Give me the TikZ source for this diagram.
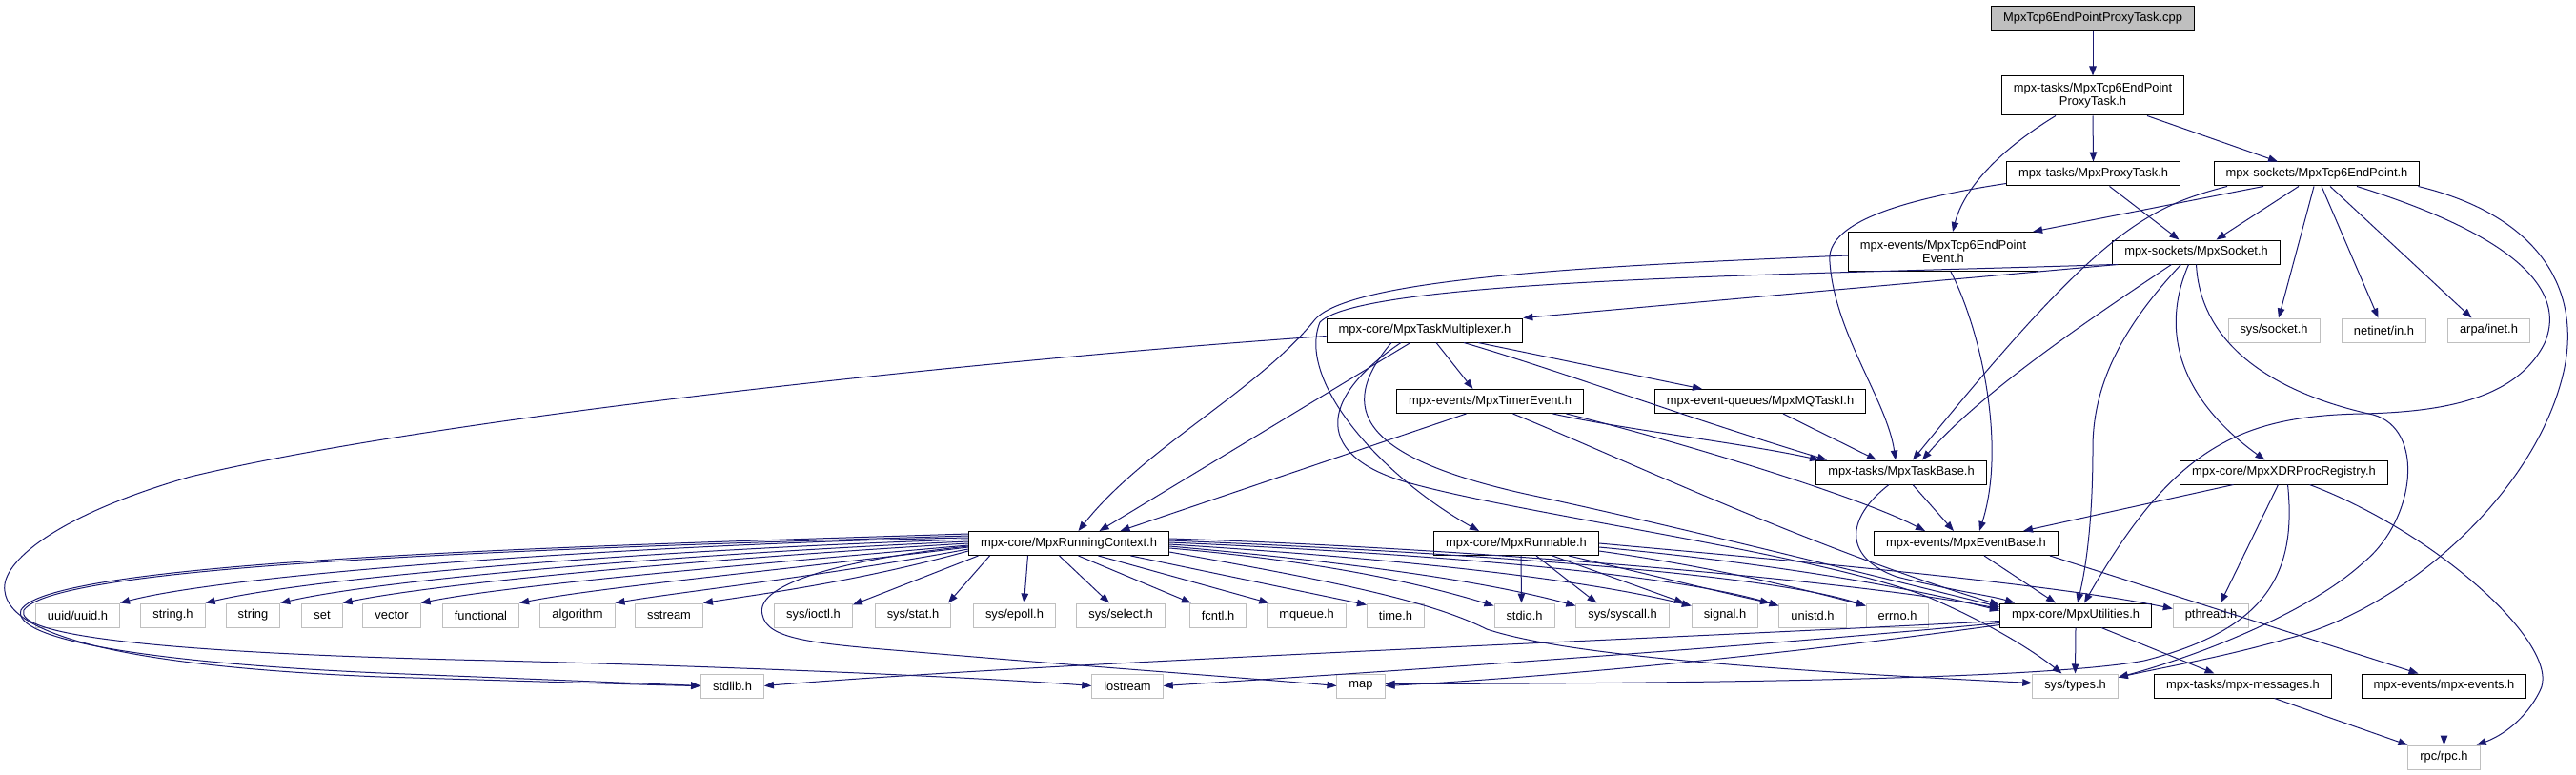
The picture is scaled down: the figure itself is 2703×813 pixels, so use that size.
\documentclass[tikz,border=0pt]{standalone}
\usepackage{fontspec}
\setmainfont{Liberation Sans}
\usetikzlibrary{arrows.meta}
\definecolor{edgec}{HTML}{191970}
\definecolor{extc}{HTML}{BFBFBF}
\definecolor{rootc}{HTML}{BFBFBF}
\begin{document}
\begin{tikzpicture}[x=1pt,y=-1pt,
  every node/.style={font=\fontsize{12.9}{14}\selectfont, inner xsep=12.5pt, inner ysep=0pt, minimum height=25pt, line width=1pt, fill=white},
  doc/.style={draw=black},
  ext/.style={draw=extc},
  rootn/.style={draw=black, fill=rootc},
  two/.style={align=center, minimum height=41pt},
  lnk/.style={draw=edgec, line width=1pt, -{Triangle[length=10pt,width=7.5pt]}}
]
\useasboundingbox (0,0) rectangle (2703,813);
% ---------------- nodes
\node[rootn] (root) at (2196,19) {MpxTcp6EndPointProxyTask.cpp};
\node[doc,two] (pt) at (2196,100.5) {mpx-tasks/MpxTcp6EndPoint\\ProxyTask.h};
\node[doc] (proxy) at (2196.5,182.5) {mpx-tasks/MpxProxyTask.h};
\node[doc] (tcpep) at (2431,182.5) {mpx-sockets/MpxTcp6EndPoint.h};
\node[doc,two] (evt) at (2039,264) {mpx-events/MpxTcp6EndPoint\\Event.h};
\node[doc] (sock) at (2304.5,264.5) {mpx-sockets/MpxSocket.h};
\node[ext] (syssock) at (2386,346.5) {sys/socket.h};
\node[ext] (netin) at (2501.5,346.5) {netinet/in.h};
\node[ext] (arpa) at (2611.5,346.5) {arpa/inet.h};
\node[doc] (mux) at (1495,346.5) {mpx-core/MpxTaskMultiplexer.h};
\node[doc] (timer) at (1563.5,421) {mpx-events/MpxTimerEvent.h};
\node[doc] (mq) at (1847,421) {mpx-event-queues/MpxMQTaskI.h};
\node[doc] (taskbase) at (1995,495.5) {mpx-tasks/MpxTaskBase.h};
\node[doc] (xdr) at (2396.5,495.5) {mpx-core/MpxXDRProcRegistry.h};
\node[doc] (rc) at (1121.5,570) {mpx-core/MpxRunningContext.h};
\node[doc] (runnable) at (1591,570) {mpx-core/MpxRunnable.h};
\node[doc] (evbase) at (2063,570) {mpx-events/MpxEventBase.h};
\node[ext] (uuid) at (81.5,645.5) {uuid/uuid.h};
\node[ext] (stringh) at (181.5,645.5) {string.h};
\node[ext] (string) at (265.5,645.5) {string};
\node[ext] (set) at (338,645.5) {set};
\node[ext] (vector) at (411,645.5) {vector};
\node[ext] (functional) at (504.5,645.5) {functional};
\node[ext] (algorithm) at (606,645.5) {algorithm};
\node[ext] (sstream) at (702,645.5) {sstream};
\node[ext] (ioctl) at (853.5,645.5) {sys/ioctl.h};
\node[ext] (stat) at (958,645.5) {sys/stat.h};
\node[ext] (epoll) at (1064.5,645.5) {sys/epoll.h};
\node[ext] (select) at (1176,645.5) {sys/select.h};
\node[ext] (fcntl) at (1278,645.5) {fcntl.h};
\node[ext] (mqueue) at (1371,645.5) {mqueue.h};
\node[ext] (timeh) at (1464.5,645.5) {time.h};
\node[ext] (stdio) at (1599.5,645.5) {stdio.h};
\node[ext] (syscall) at (1702.5,645.5) {sys/syscall.h};
\node[ext] (signal) at (1810,645.5) {signal.h};
\node[ext] (unistd) at (1902,645.5) {unistd.h};
\node[ext] (errno) at (1991,645.5) {errno.h};
\node[doc] (util) at (2178,645.5) {mpx-core/MpxUtilities.h};
\node[ext] (pthread) at (2320,645.5) {pthread.h};
\node[ext] (stdlib) at (768.5,719.5) {stdlib.h};
\node[ext] (iostream) at (1183,719.5) {iostream};
\node[ext] (map) at (1428,719.5) {map};
\node[ext] (systypes) at (2177.5,719.5) {sys/types.h};
\node[doc] (messages) at (2353.5,719.5) {mpx-tasks/mpx-messages.h};
\node[doc] (mpxevents) at (2564.5,719.5) {mpx-events/mpx-events.h};
\node[ext] (rpc) at (2564.5,794.5) {rpc/rpc.h};
% ---------------- edges: top
\draw[lnk] (root.south) -- (pt.north);
\draw[lnk] (pt.south) -- (proxy.north);
\draw[lnk] ([xshift=57pt]pt.south) -- ([xshift=-41pt]tcpep.north);
\draw[lnk] ([xshift=-39pt]pt.south) .. controls (2094,160) and (2060,200) .. ([xshift=10pt]evt.north);
% proxy
\draw[lnk] ([xshift=17pt]proxy.south) -- ([xshift=-18pt]sock.north);
\draw[lnk] ([yshift=-10pt]proxy.west) .. controls (1990,210) and (1915,235) .. (1920,275) .. controls (1925,350) and (1980,420) .. ([xshift=-6pt]taskbase.north);
% tcpep
\draw[lnk] ([xshift=-56pt]tcpep.south) -- ([xshift=-6pt]evt.north east);
\draw[lnk] ([xshift=-19pt]tcpep.south) -- ([xshift=21pt]sock.north);
\draw[lnk] ([xshift=-3pt]tcpep.south) -- ([xshift=5pt]syssock.north);
\draw[lnk] ([xshift=5pt]tcpep.south) -- ([xshift=-6pt]netin.north);
\draw[lnk] ([xshift=14pt]tcpep.south) -- ([xshift=-18pt]arpa.north);
\draw[lnk] ([xshift=-94pt]tcpep.south) .. controls (2250,218) and (2200,245) .. ([xshift=12pt]taskbase.north);
\draw[lnk] ([xshift=42pt]tcpep.south) .. controls (2600,235) and (2700,290) .. (2670,360) .. controls (2640,420) and (2560,432) .. (2480,434) .. controls (2350,436) and (2280,470) .. ([xshift=9pt]util.north);
\draw[lnk] ([xshift=-2pt]tcpep.south east) .. controls (2660,225) and (2710,300) .. (2690,390) .. controls (2660,520) and (2520,640) .. (2400,670) .. controls (2330,690) and (2270,700) .. ([yshift=-4pt]systypes.north east);
% sock
\draw[lnk] ([xshift=-16pt]sock.south) .. controls (2230,340) and (2196,400) .. (2196,470) .. controls (2196,540) and (2190,590) .. ([xshift=2pt]util.north);
\draw[lnk] ([xshift=-8pt]sock.south) .. controls (2265,350) and (2290,420) .. ([xshift=-20pt]xdr.north);
\draw[lnk] (sock.south) .. controls (2310,380) and (2420,420) .. (2490,435) .. controls (2545,450) and (2535,545) .. (2480,590) .. controls (2420,645) and (2300,690) .. ([yshift=-4pt]systypes.north east);
\draw[lnk] ([xshift=-26pt]sock.south) .. controls (2200,330) and (2080,410) .. ([xshift=22pt]taskbase.north);
\draw[lnk] ([xshift=6pt]sock.south west) -- (mux.north east);
\draw[lnk] ([xshift=2pt]sock.south west) .. controls (1900,288) and (1430,292) .. (1385,338) .. controls (1360,400) and (1450,500) .. ([xshift=-39pt]runnable.north);
% evt
\draw[lnk] ([yshift=-4pt]evt.west) .. controls (1700,278) and (1420,290) .. (1380,335) .. controls (1320,410) and (1200,470) .. ([xshift=10pt]rc.north);
\draw[lnk] ([xshift=8pt]evt.south) .. controls (2080,350) and (2105,470) .. ([xshift=14pt]evbase.north);
% mux
\draw[lnk] ([xshift=12pt]mux.south) -- ([xshift=-18pt]timer.north);
\draw[lnk] ([xshift=56pt]mux.south) -- ([xshift=-61pt]mq.north);
\draw[lnk] ([xshift=41pt]mux.south) .. controls (1640,390) and (1760,435) .. ([xshift=-78pt]taskbase.north);
\draw[lnk] ([xshift=-15pt]mux.south) -- ([xshift=32pt]rc.north);
\draw[lnk] ([xshift=-35pt]mux.south) .. controls (1400,430) and (1430,480) .. (1600,518) .. controls (1750,550) and (1950,600) .. ([yshift=-4pt]util.north west);
\draw[lnk] ([xshift=-25pt]mux.south) .. controls (1380,420) and (1380,480) .. (1480,507) .. controls (1600,540) and (1900,580) .. (2020,625) .. controls (2080,650) and (2130,680) .. ([xshift=-14pt]systypes.north);
\draw[lnk] ([yshift=-6pt]mux.west) .. controls (1000,380) and (450,440) .. (200,500) .. controls (60,540) and (0,590) .. (5,620) .. controls (10,670) and (150,700) .. (400,710) .. controls (600,716) and (700,719) .. (stdlib.west);
% timer
\draw[lnk] ([xshift=-25pt]timer.south) -- ([xshift=54pt]rc.north);
\draw[lnk] ([xshift=66pt]timer.south) .. controls (1700,450) and (1830,465) .. ([xshift=-86pt]taskbase.north);
\draw[lnk] ([xshift=24pt]timer.south) .. controls (1700,480) and (1900,575) .. ([yshift=-2pt]util.north west);
\draw[lnk] ([xshift=80pt]timer.south) .. controls (1750,460) and (1950,520) .. ([xshift=-43pt]evbase.north);
% mq
\draw[lnk] ([xshift=24pt]mq.south) -- ([xshift=-26pt]taskbase.north);
% taskbase
\draw[lnk] ([xshift=12pt]taskbase.south) -- ([xshift=-13pt]evbase.north);
\draw[lnk] ([xshift=-13pt]taskbase.south) .. controls (1935,545) and (1935,585) .. (1990,605) .. controls (2050,620) and (2090,625) .. ([xshift=-64pt]util.north);
% xdr
\draw[lnk] ([xshift=-53pt]xdr.south) -- ([xshift=60pt]evbase.north);
\draw[lnk] ([xshift=-6pt]xdr.south) -- ([xshift=10pt]pthread.north);
\draw[lnk] ([xshift=27pt]xdr.south) .. controls (2560,560) and (2690,680) .. (2665,725) .. controls (2650,755) and (2625,772) .. ([xshift=-4pt]rpc.north east);
\draw[lnk] ([xshift=4pt]xdr.south) .. controls (2410,600) and (2380,660) .. (2250,693) .. controls (2150,712) and (1800,717) .. ([yshift=2pt]map.east);
% evbase
\draw[lnk] ([xshift=19pt]evbase.south) -- ([xshift=-21pt]util.north);
\draw[lnk] ([xshift=88pt]evbase.south) -- ([xshift=-27pt]mpxevents.north);
% util
\draw[lnk] (util.south) -- (systypes.north);
\draw[lnk] ([xshift=27pt]util.south) -- ([xshift=-30pt]messages.north);
\draw[lnk] ([yshift=-6pt]util.west) .. controls (1700,672) and (1100,695) .. (stdlib.east);
\draw[lnk] ([yshift=-8pt]util.west) .. controls (1800,682) and (1400,708) .. (iostream.east);
\draw[lnk] ([yshift=-10pt]util.west) .. controls (1850,690) and (1600,712) .. (map.east);
% messages, events
\draw[lnk] ([xshift=33pt]messages.south) -- (rpc.north west);
\draw[lnk] (mpxevents.south) -- (rpc.north);
% rc: left fan
\draw[lnk] ([yshift=6pt]rc.west) .. controls (700,570) and (250,600) .. (uuid.north east);
\draw[lnk] ([yshift=4pt]rc.west) .. controls (720,575) and (340,603) .. (stringh.north east);
\draw[lnk] ([yshift=2pt]rc.west) .. controls (740,580) and (410,606) .. (string.north east);
\draw[lnk] (rc.west) .. controls (760,585) and (470,610) .. (set.north east);
\draw[lnk] ([yshift=-2pt]rc.west) .. controls (790,592) and (540,613) .. (vector.north east);
\draw[lnk] ([yshift=-4pt]rc.west) .. controls (820,598) and (630,616) .. (functional.north east);
\draw[lnk] ([yshift=-6pt]rc.west) .. controls (860,605) and (720,620) .. (algorithm.north east);
\draw[lnk] ([yshift=-8pt]rc.west) .. controls (900,610) and (800,623) .. (sstream.north east);
\draw[lnk] ([yshift=8pt]rc.west) .. controls (600,575) and (60,590) .. (25,640) .. controls (15,665) and (150,685) .. (520,693) .. controls (800,700) and (1050,712) .. (iostream.west);
\draw[lnk] ([yshift=10pt]rc.west) .. controls (600,573) and (50,588) .. (22,640) .. controls (12,670) and (150,695) .. (400,706) .. controls (600,714) and (700,718) .. (stdlib.west);
\draw[lnk] ([yshift=-3pt]rc.west) .. controls (900,585) and (790,610) .. (800,645) .. controls (805,670) and (850,675) .. (950,683) .. controls (1150,700) and (1320,712) .. (map.west);
% rc: bottom
\draw[lnk] ([xshift=-95pt]rc.south) -- ([yshift=-2pt]ioctl.north east);
\draw[lnk] ([xshift=-83pt]rc.south) -- ([xshift=37pt]stat.north);
\draw[lnk] ([xshift=-43pt]rc.south) -- ([xshift=10pt]epoll.north);
\draw[lnk] ([xshift=-10pt]rc.south) -- ([xshift=-12pt]select.north);
\draw[lnk] ([xshift=10pt]rc.south) -- ([xshift=2pt]fcntl.north west);
\draw[lnk] ([xshift=31pt]rc.south) -- ([xshift=2pt]mqueue.north west);
\draw[lnk] ([xshift=65pt]rc.south) -- ([yshift=-2pt]timeh.north west);
% rc: right
\draw[lnk] ([yshift=-5pt]rc.east) .. controls (1400,590) and (1500,615) .. ([yshift=-3pt]stdio.north west);
\draw[lnk] ([yshift=-3pt]rc.east) .. controls (1420,590) and (1560,610) .. ([yshift=-3pt]syscall.north west);
\draw[lnk] ([yshift=-1pt]rc.east) .. controls (1450,585) and (1650,605) .. ([yshift=-3pt]signal.north west);
\draw[lnk] ([yshift=1pt]rc.east) .. controls (1480,580) and (1750,600) .. ([yshift=-3pt]unistd.north west);
\draw[lnk] ([yshift=3pt]rc.east) .. controls (1500,578) and (1850,600) .. ([yshift=-3pt]errno.north west);
\draw[lnk] ([yshift=5pt]rc.east) .. controls (1550,575) and (1950,610) .. ([yshift=-6pt]util.north west);
\draw[lnk] ([yshift=-9pt]rc.east) .. controls (1400,610) and (1500,630) .. (1560,660) .. controls (1650,690) and (1900,705) .. ([yshift=3pt]systypes.west);
% runnable
\draw[lnk] ([xshift=5pt]runnable.south) -- ([xshift=-3pt]stdio.north);
\draw[lnk] ([xshift=21pt]runnable.south) -- ([xshift=-27pt]syscall.north);
\draw[lnk] ([xshift=38pt]runnable.south) -- ([xshift=-43pt]signal.north);
\draw[lnk] ([xshift=55pt]runnable.south) .. controls (1720,600) and (1800,620) .. ([xshift=-45pt]unistd.north);
\draw[lnk] ([yshift=-8pt]runnable.east) .. controls (1800,595) and (1900,620) .. ([yshift=-3pt]errno.north west);
\draw[lnk] ([yshift=-4pt]runnable.east) .. controls (1850,590) and (2000,615) .. ([yshift=-8pt]util.north west);
\draw[lnk] (runnable.east) .. controls (1900,590) and (2150,612) .. ([yshift=-6pt]pthread.north west);
\end{tikzpicture}
\end{document}
